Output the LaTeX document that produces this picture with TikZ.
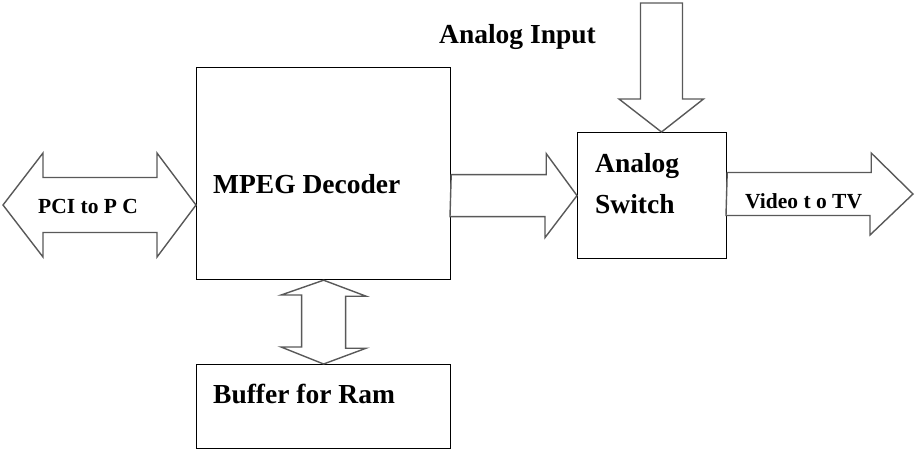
\documentclass[tikz,border=0pt]{standalone}
\usepackage{fontspec}
\setmainfont{Liberation Serif}
\usetikzlibrary{calc}

\tikzset{
  blockbox/.style={draw=black,line width=1.2pt,fill=white,inner sep=0pt},
  fatarrow/.style={draw=black!65,line width=1.4pt,fill=white,line join=miter},
  biglbl/.style={font=\bfseries\fontsize{27.5}{30}\selectfont,inner sep=0pt,anchor=base west},
  smalllbl/.style={font=\bfseries\fontsize{21.5}{24}\selectfont,inner sep=0pt,anchor=base west}
}

\begin{document}
\begin{tikzpicture}[x=1pt,y=-1pt]
        \useasboundingbox (0,0) rectangle (915,450);

        % blocks
        \node[blockbox,minimum width=254,minimum height=212,anchor=north west] (mpeg) at (196,67) {};
        \node[blockbox,minimum width=254,minimum height=84,anchor=north west] (buf) at (196,364) {};
        \node[blockbox,minimum width=149,minimum height=126,anchor=north west] (sw) at (577,132) {};

        \coordinate (pcl) at (3,205);
        \coordinate (pcr) at (mpeg.west |- pcl);
        \coordinate (ain) at (661.5,3);
        \coordinate (ainTip) at (661.5,132);
        \coordinate (dec) at (mpeg.east |- sw.west);
        \coordinate (tv) at (913,194);
        \coordinate (swr) at (sw.east |- tv);

        % PCI to PC
        \draw[fatarrow] (pcl) -- ++(40,-52) -- ++(0,24.5) -- ++(114,0) -- ++(0,-24.5)
            -- (pcr) -- ++(-39,52) -- ++(0,-24.5) -- ++(-114,0) -- ++(0,24.5) -- cycle;

        % decoder to switch
        \draw[fatarrow] ($(dec)+(0,-21)$) -- ++(95,0) -- ++(0,-21) -- (sw.west)
            -- ++(-32,42) -- ++(0,-21) -- ++(-95,0) -- cycle;

        % analog input
        \draw[fatarrow] ($(ain)+(-21,0)$) -- ++(42,0) -- ++(0,96) -- ++(21,0) -- (ainTip)
            -- ++(-42.5,-33) -- ++(21.5,0) -- cycle;

        % video to tv
        \draw[fatarrow] ($(swr)+(0,-21.5)$) -- ++(144,0) -- ++(0,-19.5) -- (tv)
            -- ++(-43,41) -- ++(0,-19.5) -- ++(-144,0) -- cycle;

        % decoder and buffer
        \draw[fatarrow] (mpeg.south) -- ++(42.5,16) -- ++(-20.5,0) -- ++(0,52) -- ++(20.5,0)
            -- (buf.north) -- ++(-42.5,-17) -- ++(20.5,0) -- ++(0,-52) -- ++(-20.5,0) -- cycle;

        % labels
        \node[biglbl] (mpegtxt) at (213,193) {MPEG Decoder};
        \node[biglbl] (buftxt) at (213,403) {Buffer for Ram};
        \node[biglbl] (aintxt) at (439,43) {Analog Input};
        \node[biglbl] (swtxt1) at (595,172) {Analog};
        \node[biglbl] (swtxt2) at (595,213) {Switch};
        \node[smalllbl] (pcitxt) at (38,213) {PCI to P C};
        \node[smalllbl] (tvtxt) at (745,208) {Video t o TV};
    \end{tikzpicture}
\end{document}
